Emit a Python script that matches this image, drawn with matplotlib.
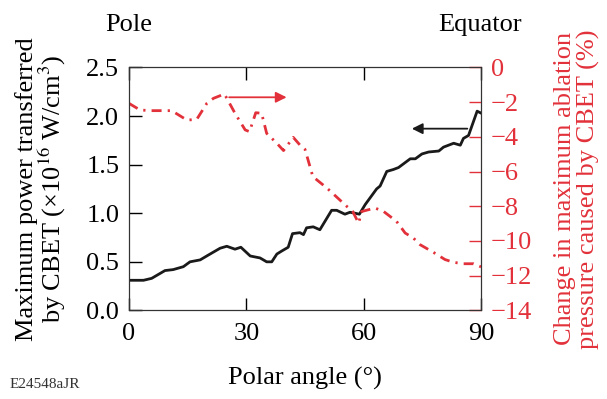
import matplotlib
matplotlib.use("Agg")
import matplotlib.pyplot as plt

plt.rcParams["font.family"] = ["Liberation Serif", "DejaVu Serif"]
plt.rcParams["mathtext.fontset"] = "stix"

RED = "#e2313a"

# 最大 CBET 功率（左轴）
power_angle = [0, 3.7, 5.8, 9.2, 11.3, 13.9, 15.6, 18.2, 20.3, 23.3, 25.0, 27.1, 28.6,
               31.0, 33.5, 35.2, 36.5, 37.8, 39.0, 40.7, 41.8, 43.7, 44.6, 45.4, 47.1,
               48.8, 49.7, 51.8, 53.1, 55.2, 56.5, 57.8, 58.9, 60.4, 63.3, 64.2, 65.9,
               67.6, 68.9, 71.9, 73.2, 74.9, 76.6, 79.2, 80.4, 83.0, 84.7, 85.5, 86.8,
               89.0, 90.0]
power = [0.31, 0.31, 0.33, 0.41, 0.42, 0.45, 0.50, 0.52, 0.57, 0.64, 0.66, 0.63, 0.65,
         0.56, 0.54, 0.50, 0.50, 0.58, 0.61, 0.65, 0.79, 0.80, 0.78, 0.85, 0.86,
         0.83, 0.89, 1.03, 1.03, 0.99, 1.01, 1.00, 0.99, 1.09, 1.25, 1.28, 1.43,
         1.45, 1.47, 1.56, 1.56, 1.61, 1.63, 1.64, 1.68, 1.72, 1.70, 1.77, 1.80,
         2.05, 2.03]

# 烧蚀压力变化（右轴, %）
press_angle = [0, 2.8, 5.4, 10.9, 14.8, 17.3, 19.9, 21.6, 24.4, 27.1, 29.7, 30.8, 31.8,
               32.4, 33.9, 35.2, 37.8, 39.5, 42.0, 43.7, 45.0, 47.0, 50.6, 55.7, 57.2,
               58.7, 59.5, 62.9, 65.1, 68.4, 70.6, 72.7, 74.4, 77.8, 80.8, 83.0, 85.5,
               88.1, 90.0]
pressure = [-2.07, -2.45, -2.49, -2.49, -3.03, -3.0, -2.07, -1.78, -1.53, -2.64, -3.60,
            -3.70, -3.03, -2.61, -2.64, -3.80, -4.37, -4.79, -4.03, -4.47, -4.72, -6.29,
            -6.95, -8.01, -8.3, -8.97, -8.3, -8.10, -8.3, -8.87, -9.54, -9.83, -10.21,
            -10.65, -11.07, -11.23, -11.31, -11.31, -11.49]

fig = plt.figure(figsize=(6.07, 3.99), dpi=100)
ax = fig.add_axes([0.2125, 0.222, 0.58, 0.609])
ax2 = ax.twinx()

ax.plot(power_angle, power, color="#1a1a1a", lw=2.0, zorder=3)
ax2.plot(press_angle, pressure, color=RED, lw=2.0, dashes=(3.6, 2.2, 0.8, 2.2))

ax.set_xlim(0, 90)
ax.set_ylim(0, 2.5)
ax2.set_ylim(-14, 0)
ax.set_xticks([0, 30, 60, 90])
ax.set_yticks([0, 0.5, 1.0, 1.5, 2.0, 2.5])
ax.set_yticklabels([f"{v:.1f}" for v in ax.get_yticks()])
ax2.set_yticks(range(-14, 1, 2))
ax2.set_yticklabels([str(v).replace("-", "\u2212") for v in range(-14, 1, 2)])

fs = 19
ax.tick_params(direction="in", length=9, width=1, labelsize=fs, top=True, pad=7)
ax.tick_params(axis="x", pad=9)
ax2.tick_params(direction="in", length=9, width=1, labelsize=fs, colors=RED, pad=7)
for s in ax2.spines.values():
    s.set_color("#333333")

ax.set_xlabel("Polar angle (°)", fontsize=fs, labelpad=16)
ax.set_ylabel("Maximum power transferred\nby CBET (×10$^{16}$ W/cm$^{3}$)",
              fontsize=fs, linespacing=0.95, labelpad=13)
ax2.set_ylabel("Change in maximum ablation\npressure caused by CBET (%)",
               fontsize=fs, color=RED, linespacing=1.05, labelpad=16)

# 箭头指示各曲线对应的坐标轴
ax2.annotate("", xy=(41, -1.72), xytext=(24.9, -1.72),
             arrowprops=dict(arrowstyle="-|>", color=RED, lw=1.3, mutation_scale=16))
ax.annotate("", xy=(71.6, 1.87), xytext=(87.2, 1.87),
            arrowprops=dict(arrowstyle="-|>", color="#1a1a1a", lw=1.3, mutation_scale=16))

fig.text(129 / 607, 1 - 25 / 399, "Pole", fontsize=fs, ha="center", va="center")
fig.text(480 / 607, 1 - 25 / 399, "Equator", fontsize=fs, ha="center", va="center")
fig.text(10 / 607, 1 - 385 / 399, "E24548aJR", fontsize=11, ha="left", va="center",
         color="#333333")

fig.savefig("out.png", dpi=100)
